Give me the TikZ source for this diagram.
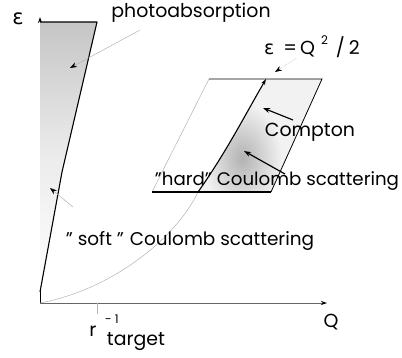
\documentclass[tikz,border=0pt]{standalone}
\usepackage{fontspec}
\setmainfont{Poppins}
\newfontfamily\grk{DejaVu Sans}
\usetikzlibrary{arrows.meta}

\tikzset{
  edge/.style={black,line width=1.1pt},
  faint/.style={gray!60,line width=0.5pt},
  pointer/.style={gray!60,line width=0.5pt,-{Stealth[black,length=7pt,width=5pt]}},
  bigpointer/.style={black,line width=1.2pt,-{Stealth[length=7pt,width=5pt]}},
}

\begin{document}
\begin{tikzpicture}[x=1bp,y=-1bp, every node/.style={font=\fontsize{19}{22}\selectfont,inner sep=0pt}]
  \useasboundingbox (0,0) rectangle (402,358);
  % axes
  \coordinate (o) at (40,303);
  \coordinate (ytop) at (40,17);
  \coordinate (xend) at (327,303);
  \coordinate (rtick) at (97,303);
  \draw[black,line width=1pt,-{Stealth[length=6pt,width=4pt]}] (o) -- (ytop);
  \draw[gray!80!black,line width=0.8pt,-{Stealth[black,length=6pt,width=4pt]}] (o) -- (xend);
  \draw[faint] (rtick) -- ++(0,11);
  \node[font=\fontsize{21}{22}\selectfont] (eps) at (18,19) {\grk ε};
  \node (q) at (331,322) {Q};
  \node[anchor=base] (r) at (93,336) {r};
  \node[font=\fontsize{12}{12}\selectfont] (minus1) at (112,319) {- 1};
  \node (target) at (136,342) {target};
  % photoabsorption wedge
  \fill[top color=gray!45,bottom color=white,middle color=gray!15] (40,22) -- (97,22) -- (62,172) -- (40,292) -- cycle;
  \draw[edge,line join=round] (40,22) -- (97,22) -- (62,172) -- (40,292);
  \node (photo) at (191,13) {photoabsorption};
  \coordinate (phototail) at (140,30);
  \coordinate (photohead) at (70,68);
  \draw[pointer] (phototail) -- (photohead);
  % hard region
  \coordinate (tl) at (209,79);
  \coordinate (tr) at (322,79);
  \coordinate (br) at (271,192);
  \coordinate (bl) at (152,192);
  \coordinate (cbot) at (198,192);
  \coordinate (ctop) at (266,79);
  \begin{scope}
    \clip (cbot) .. controls (225,154) and (244,117) .. (ctop) -- (tr) -- (br) -- cycle;
    \fill[gray!10] (150,70) rectangle (330,200);
    \shade[inner color=gray!60,outer color=gray!10] (242,158) ellipse (40 and 55);
  \end{scope}
  \draw[faint] (o) .. controls (110,290) and (175,240) .. (cbot);
  \draw[faint] (tl) -- (bl);
  \draw[black,line width=0.8pt] (tl) -- (tr) -- (br);
  \draw[edge] (bl) -- (br);
  \draw[edge,-{Stealth[length=6pt,width=4pt]}] (cbot) .. controls (225,154) and (244,117) .. (ctop);
  % labels
  \node (compline) at (312,47) {{\grk ε}\hspace{9pt}=\,Q\hspace{6pt}\raisebox{10pt}{\fontsize{12}{12}\selectfont 2}\hspace{8pt}/\hspace{4pt}2};
  \coordinate (comptail) at (297,58);
  \coordinate (comphead) at (275,72);
  \draw[pointer,densely dotted] (comptail) -- (comphead);
  \node (compton) at (310,132) {Compton};
  \coordinate (ctail) at (293,120);
  \coordinate (chead) at (263,108);
  \draw[bigpointer] (ctail) -- (chead);
  \node[font=\fontsize{18.3}{22}\selectfont] (hard) at (277,181) {"hard" Coulomb scattering};
  \coordinate (htail) at (285,174);
  \coordinate (hhead) at (244,151);
  \draw[bigpointer] (htail) -- (hhead);
  \node[font=\fontsize{18.5}{22}\selectfont] (soft) at (190,241) {" soft "\hspace{6pt}Coulomb scattering};
  \coordinate (stail) at (73,207);
  \coordinate (shead) at (50,188);
  \draw[pointer] (stail) -- (shead);
\end{tikzpicture}
\end{document}
